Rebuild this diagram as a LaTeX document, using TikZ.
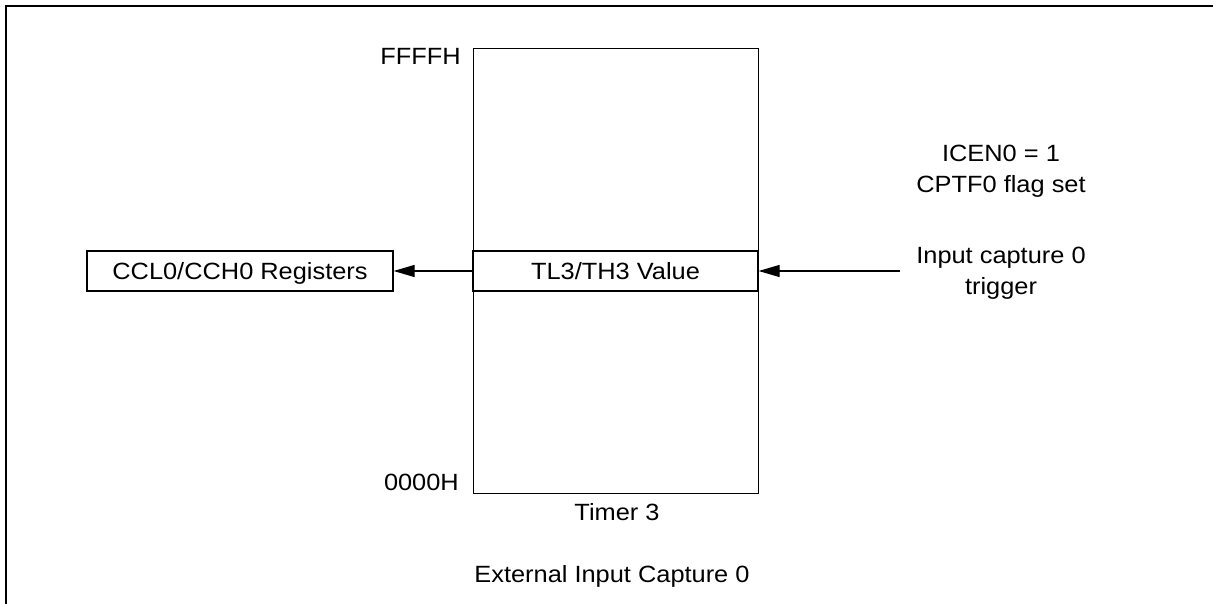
\documentclass[tikz,border=0pt]{standalone}
\usepackage{fontspec}
\setmainfont{Liberation Sans}[FakeStretch=1.08]
\usetikzlibrary{arrows.meta}
\begin{document}
\begin{tikzpicture}[x=1pt,y=-1pt,
  txt/.style={inner sep=0pt, font=\fontsize{23.5}{31}\selectfont},
  boxnode/.style={draw, line width=1.2pt, inner sep=0pt, txt, text height=17pt, text depth=0pt},
  arr/.style={-{Triangle[length=21pt,width=12pt]}, line width=1.2pt},
  frameline/.style={line width=2.2pt}
]
\useasboundingbox (0,0) rectangle (1213,604);
% outer frame (top and left edges)
\draw[frameline] (1214,6) -- (6,6) -- (6,605);
% Timer 3 register
\node[boxnode, anchor=north west, minimum width=285pt, minimum height=445pt] (timer) at (473,48) {};
\node[boxnode, minimum width=285pt, minimum height=40pt] (band) at (615.5,271) {TL3/TH3 Value};
% capture registers
\node[boxnode, minimum width=306pt, minimum height=40pt] (reg) at (240,271) {CCL0/CCH0 Registers};
% labels
\node[txt, anchor=north east] (ffff) at (461,48) {FFFFH};
\node[txt, anchor=base east] (zero) at (459,490) {0000H};
\node[txt, anchor=base] (tname) at (617,520) {Timer 3};
\node[txt, anchor=base] (title) at (612,582) {External Input Capture 0};
\node[txt, anchor=north, align=center] (icen) at (1001,145) {ICEN0 = 1\\CPTF0 flag set};
\node[txt, anchor=north, align=center] (trigtxt) at (1001,247) {Input capture 0\\trigger};
% connectors
\coordinate (trig) at (900,271);
\draw[arr] (band.west) -- (reg.east);
\draw[arr] (trig) -- (band.east);
\end{tikzpicture}
\end{document}
